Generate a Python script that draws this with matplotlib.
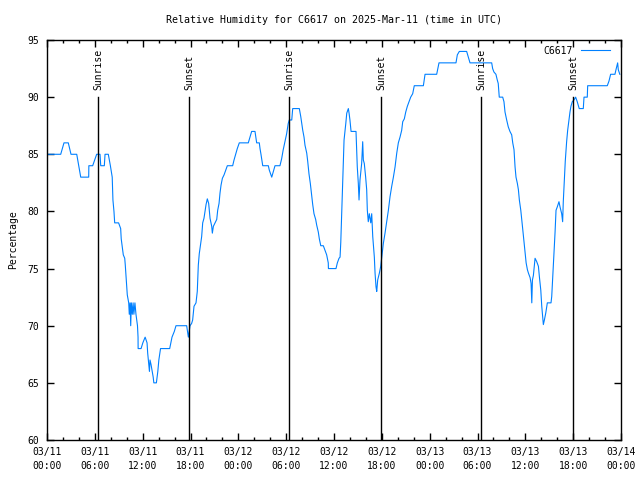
import numpy as np
import pandas as pd
import matplotlib
matplotlib.use("Agg")
import matplotlib.pyplot as plt
import matplotlib.dates as mdates

# hours since 2025-03-11 00:00 UTC and relative humidity (%)
hours = [
    0.00, 1.72, 2.13, 2.67, 3.01, 3.73, 4.23, 5.23, 5.25, 5.73, 6.23, 6.65, 6.74, 7.19, 7.28,
    7.69, 7.95, 8.18, 8.27, 8.40, 8.49, 8.98, 9.24, 9.31, 9.44, 9.57, 9.75, 9.82, 9.91, 9.99,
    10.07, 10.25, 10.32, 10.42, 10.50, 10.58, 10.70, 10.80, 10.90, 11.03, 11.16, 11.35, 11.42,
    11.43, 11.80, 12.02, 12.31, 12.55, 12.63, 12.76, 12.85, 12.92, 13.05, 13.20, 13.32, 13.40,
    13.72, 13.90, 14.03, 14.24, 15.39, 15.56, 15.68, 15.97, 16.18, 17.52, 17.73, 17.94, 18.14,
    18.27, 18.44, 18.69, 18.85, 18.98, 19.10, 19.28, 19.40, 19.53, 19.69, 19.82, 19.95, 20.11,
    20.28, 20.45, 20.66, 20.74, 20.87, 21.08, 21.29, 21.41, 21.58, 21.70, 21.83, 22.00, 22.21,
    22.42, 22.62, 23.29, 23.46, 23.67, 23.87, 24.12, 25.25, 25.46, 25.67, 26.09, 26.30, 26.63,
    26.72, 26.84, 27.06, 27.76, 27.89, 28.19, 28.31, 28.60, 29.22, 29.43, 29.63, 29.85, 30.06,
    30.26, 30.39, 30.70, 30.82, 31.65, 31.83, 31.95, 32.08, 32.24, 32.36, 32.58, 32.70, 32.86,
    33.03, 33.20, 33.33, 33.49, 33.70, 33.83, 34.03, 34.16, 34.34, 34.66, 34.87, 35.08, 35.28,
    35.30, 36.25, 36.42, 36.63, 36.76, 36.85, 36.97, 37.10, 37.26, 37.48, 37.60, 37.80, 37.89,
    38.00, 38.14, 38.76, 38.84, 38.92, 39.05, 39.14, 39.26, 39.47, 39.60, 39.68, 39.80, 39.97,
    40.10, 40.18, 40.30, 40.43, 40.61, 40.73, 40.86, 41.06, 41.15, 41.27, 41.36, 41.48, 41.69,
    41.86, 41.99, 42.19, 42.40, 42.61, 42.82, 43.03, 43.24, 43.45, 43.66, 43.87, 44.07, 44.28,
    44.49, 44.62, 44.82, 45.00, 45.20, 45.41, 45.62, 45.87, 46.07, 47.21, 47.42, 48.88, 49.17,
    51.30, 51.47, 51.72, 52.64, 53.06, 55.78, 55.90, 56.06, 56.31, 56.48, 56.60, 56.73, 57.16,
    57.32, 57.45, 57.66, 57.86, 58.07, 58.29, 58.42, 58.58, 58.71, 58.83, 59.00, 59.13, 59.25,
    59.43, 59.56, 59.68, 59.85, 59.97, 60.10, 60.26, 60.39, 60.60, 60.72, 60.81, 60.89, 61.01,
    61.22, 61.43, 61.64, 61.76, 61.94, 62.06, 62.18, 62.26, 62.39, 62.56, 62.76, 63.22, 63.31,
    63.44, 63.60, 63.73, 63.85, 64.01, 64.22, 64.35, 64.56, 64.68, 64.76, 64.88, 65.01, 65.18,
    65.31, 65.47, 65.60, 65.72, 65.89, 66.10, 66.31, 66.51, 66.76, 67.27, 67.36, 67.77, 67.82,
    70.28, 70.49, 70.70, 71.24, 71.37, 71.58, 71.66, 71.85,
]
humidity = [
    85, 85, 86, 86, 85, 85, 83, 83, 84, 84, 85, 85, 84, 84, 85,
    85, 84, 83, 81, 80, 79, 79, 78.5, 77.6, 76.9, 76.2, 75.9, 75.3, 74.4, 73.6,
    72.7, 72, 71, 72, 70, 72, 71, 72, 71, 72, 71, 70, 69,
    68, 68, 68.5, 69, 68.5, 67.6, 66.7, 66, 67, 66.6, 66, 65.5, 65,
    65, 66, 67, 68, 68, 68.6, 69, 69.5, 70, 70, 69, 70, 70.2,
    70.5, 71.7, 72, 73, 75.3, 76.3, 77.2, 77.8, 79, 79.4, 80, 80.6, 81.1,
    80.7, 79.4, 78.7, 78.1, 78.7, 79, 79.3, 80.1, 80.7, 81.6, 82.3, 82.9, 83.2,
    83.6, 84, 84, 84.5, 85, 85.5, 86, 86, 86.5, 87, 87, 86, 86,
    85.5, 85, 84, 84, 83.6, 83, 83.3, 84, 84, 84.6, 85.4, 86.1, 86.8,
    87.7, 88, 88, 89, 89, 88.3, 87.7, 87.1, 86.5, 85.8, 85.1, 84.4, 83.3,
    82.45, 81.4, 80.6, 79.8, 79.3, 78.8, 78.2, 77.6, 77, 77, 76.6, 76.2, 75.5,
    75, 75, 75.5, 75.9, 76, 77.3, 80, 82.75, 86.25, 87.7, 88.6, 89, 88.6,
    88, 87, 87, 85.5, 83.9, 82.45, 81, 82.75, 84.2, 86.1, 84.5, 84.2, 83,
    81.9, 80.1, 79.1, 79.8, 79, 79.8, 77.8, 76, 74.6, 73.4, 73, 74, 74.6,
    75.2, 76, 77.2, 78.1, 79.1, 80.1, 81.3, 82.2, 83, 83.9, 85.1, 86, 86.5,
    87.1, 87.85, 88.1, 88.7, 89.2, 89.6, 90, 90.3, 91, 91, 92, 92, 93,
    93, 93.7, 94, 94, 93, 93, 92.5, 92.2, 92, 91.5, 91.2, 90, 90,
    89.6, 88.7, 88, 87.4, 87, 86.7, 86, 85.4, 83.9, 83, 82.45, 81.9, 81,
    80.1, 79.25, 78.4, 77.2, 76.3, 75.5, 74.9, 74.6, 74.2, 73.7, 72, 74, 74.4,
    75.9, 75.6, 75.2, 74.3, 73.1, 71.7, 70.8, 70.1, 70.5, 71.1, 72, 72, 72.55,
    74.3, 76.5, 78.2, 80.1, 80.4, 80.85, 80.4, 79.8, 79.1, 80.85, 82.6, 84.4, 86.1,
    87.1, 88, 88.7, 89.2, 89.6, 89.75, 90, 89.6, 89, 89, 90, 90, 91,
    91, 91.4, 92, 92, 92.4, 93, 92.4, 92,
]

# sunrise / sunset markers (hours since start)
event_hours = [6.43, 17.85, 30.40, 41.92, 54.47, 65.97]
event_names = ["Sunrise", "Sunset", "Sunrise", "Sunset", "Sunrise", "Sunset"]

start = pd.Timestamp("2025-03-11 00:00")
times = start + pd.to_timedelta(hours, unit="h")
event_times = start + pd.to_timedelta(event_hours, unit="h")

plt.rcParams['font.family'] = 'DejaVu Sans Mono'
plt.rcParams['font.size'] = 7

fig = plt.figure(figsize=(6.4, 4.8), dpi=100)
ax = fig.add_axes([47/640, 40/480, 574/640, 400/480])

ax.plot(times, humidity, color='#0080ff', lw=0.8, label='C6617')

for t, name in zip(event_times, event_names):
    ax.plot([t, t], [60, 90], color='black', lw=1)
    ax.text(t, 90.6, name, rotation=90, ha='center', va='bottom')

ax.set_xlim(start, start + pd.Timedelta(hours=72))
ax.set_ylim(60, 95)
ax.set_yticks(np.arange(60, 96, 5))

ax.xaxis.set_major_locator(mdates.HourLocator(byhour=[0, 6, 12, 18]))
ax.xaxis.set_minor_locator(mdates.HourLocator(byhour=range(0, 24, 2)))
ax.xaxis.set_major_formatter(mdates.DateFormatter('%m/%d\n%H:%M'))
for lbl in ax.get_xticklabels():
    lbl.set_linespacing(1.5)

ax.tick_params(which='both', direction='in', top=True, right=True, width=1)
ax.tick_params(which='major', length=5, pad=6)
ax.tick_params(axis='x', which='major', pad=5)
ax.tick_params(which='minor', length=2.5)
for s in ax.spines.values():
    s.set_linewidth(1)

ax.set_ylabel('Percentage', labelpad=6)
ax.set_title('Relative Humidity for C6617 on 2025-Mar-11 (time in UTC)',
             fontsize=7.2, pad=12)

ax.legend(loc='upper right', bbox_to_anchor=(0.988, 0.997), frameon=False,
          markerfirst=False, handlelength=3, borderaxespad=0.15,
          handletextpad=0.8, borderpad=0.3)

fig.savefig('out.png', dpi=100)
